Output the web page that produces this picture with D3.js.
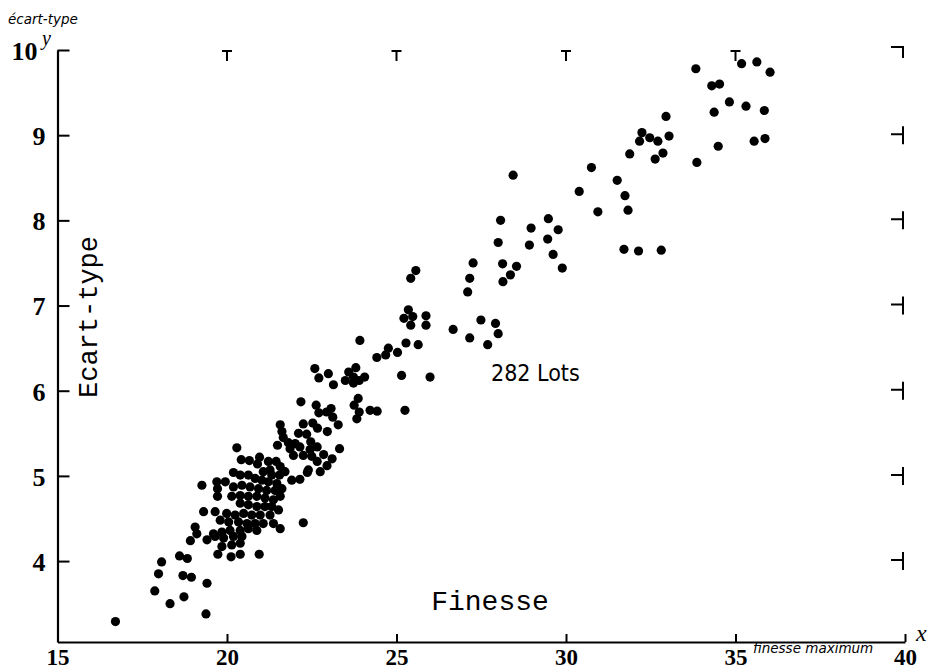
<!DOCTYPE html>
<html>
<head>
<meta charset="utf-8">
<script src="https://cdn.jsdelivr.net/npm/d3@7"></script>
<style>
  body { margin: 0; background: #fff; }
  svg { display: block; }
</style>
</head>
<body>
<div id="vis"></div>
<script>
// finesse (x) / ecart-type (y) of the lots
const finesse = [
  16.71, 17.87, 17.98, 18.07, 18.32, 18.60, 18.83, 18.70, 18.95, 18.73, 19.41, 19.38,
  22.18, 22.63, 21.57, 22.25, 22.53, 22.67, 21.62, 22.11, 22.35, 21.66, 21.81, 22.01,
  22.47, 21.49, 21.86, 22.15, 22.45, 22.66, 20.29, 21.96, 22.25, 22.50, 22.66, 20.42,
  20.66, 20.96, 20.90, 21.22, 21.45, 21.57, 21.27, 21.07, 21.32, 21.55, 21.71, 22.40,
  20.19, 20.39, 20.63, 20.83, 21.03, 21.22, 21.47, 21.62, 21.91, 22.15, 22.37, 19.70,
  19.95, 20.19, 20.44, 20.68, 20.93, 21.17, 21.42, 19.26, 19.72, 19.72, 20.14, 20.39,
  20.63, 20.88, 21.12, 21.37, 21.57, 20.39, 20.63, 20.88, 21.12, 21.32, 21.52, 19.31,
  19.65, 19.99, 20.24, 20.49, 20.73, 20.98, 21.27, 19.80, 20.05, 20.34, 20.59, 20.83,
  21.07, 21.37, 21.57, 22.25, 19.06, 19.11, 19.60, 19.85, 20.09, 20.39, 20.63, 20.88,
  18.92, 19.41, 19.65, 19.90, 20.19, 20.44, 19.85, 20.14, 20.39, 19.73, 20.12, 20.39,
  20.95,
  23.92, 24.42, 24.68, 24.76, 22.59, 22.71, 22.99, 23.14, 23.59, 23.80, 23.49, 23.73,
  23.73, 23.90, 24.06, 22.71, 22.94, 23.07, 23.12, 23.28, 22.96, 23.87, 23.75, 23.90,
  23.83, 24.22, 24.43, 23.32, 22.85, 22.95, 22.75, 23.10,
  28.44, 30.75, 31.51, 30.39, 31.74, 31.83, 30.94, 28.07, 29.48, 29.77, 28.97, 28.00,
  28.92, 29.46, 29.62, 29.89, 31.71, 27.26, 27.16, 27.10, 28.13, 28.54, 28.36, 28.14,
  25.57, 25.42, 25.35, 25.22, 25.48, 25.42, 25.87, 25.87, 26.67, 27.16, 27.49, 27.92,
  28.00, 27.69, 25.03, 25.28, 25.64, 25.15, 25.99, 25.25,
  33.83, 35.18, 35.63, 36.02, 34.30, 34.53, 34.82, 35.31, 35.85, 34.37, 32.95, 32.24,
  32.17, 32.47, 32.71, 33.04, 31.88, 32.63, 32.86, 34.49, 35.55, 35.87, 33.86, 32.14,
  32.81
]
const ecartType = [
  3.29, 3.65, 3.85, 3.99, 3.50, 4.06, 4.03, 3.83, 3.81, 3.58, 3.74, 3.38,
  5.87, 5.83, 5.60, 5.61, 5.62, 5.56, 5.52, 5.50, 5.49, 5.45, 5.39, 5.38,
  5.40, 5.36, 5.32, 5.34, 5.31, 5.34, 5.33, 5.24, 5.24, 5.23, 5.17, 5.19,
  5.18, 5.22, 5.14, 5.17, 5.17, 5.11, 5.07, 5.05, 5.01, 5.01, 5.05, 5.07,
  5.04, 5.01, 5.01, 4.97, 4.95, 4.93, 4.91, 4.85, 4.95, 4.96, 5.04, 4.93,
  4.93, 4.87, 4.89, 4.87, 4.85, 4.83, 4.83, 4.89, 4.85, 4.76, 4.76, 4.77,
  4.76, 4.76, 4.74, 4.72, 4.76, 4.68, 4.66, 4.64, 4.64, 4.64, 4.60, 4.58,
  4.58, 4.56, 4.54, 4.56, 4.54, 4.54, 4.54, 4.48, 4.46, 4.46, 4.44, 4.44,
  4.44, 4.44, 4.38, 4.45, 4.40, 4.32, 4.32, 4.34, 4.36, 4.36, 4.38, 4.36,
  4.24, 4.25, 4.29, 4.27, 4.29, 4.29, 4.17, 4.19, 4.21, 4.08, 4.05, 4.08,
  4.08,
  6.59, 6.39, 6.42, 6.50, 6.26, 6.15, 6.20, 6.07, 6.22, 6.27, 6.12, 6.16,
  6.09, 6.12, 6.16, 5.74, 5.75, 5.79, 5.69, 5.60, 5.52, 5.91, 5.83, 5.75,
  5.67, 5.77, 5.76, 5.32, 5.25, 5.12, 5.05, 5.20,
  8.53, 8.62, 8.47, 8.34, 8.29, 8.12, 8.10, 8.00, 8.02, 7.89, 7.91, 7.74,
  7.71, 7.78, 7.60, 7.44, 7.66, 7.50, 7.32, 7.16, 7.49, 7.46, 7.36, 7.28,
  7.41, 7.32, 6.95, 6.85, 6.87, 6.77, 6.88, 6.77, 6.72, 6.62, 6.83, 6.79,
  6.67, 6.54, 6.45, 6.56, 6.54, 6.18, 6.16, 5.77,
  9.78, 9.84, 9.86, 9.74, 9.58, 9.60, 9.39, 9.34, 9.29, 9.27, 9.22, 9.03,
  8.93, 8.97, 8.93, 8.99, 8.78, 8.72, 8.79, 8.87, 8.93, 8.96, 8.68, 7.64,
  7.65
]

const xTicks = [15, 20, 25, 30, 35, 40]
const yTicks = [4, 5, 6, 7, 8, 9, 10]
const topTicks = [20, 25, 30, 35]
const rightTicks = [4, 5, 6, 7, 8, 9]

const lots = finesse.map((f, i) => ({ x: f, y: ecartType[i] }))

const W = 939, H = 671

const svg = d3.select('#vis').append('svg')
  .attr('width', W)
  .attr('height', H)

const x = d3.scaleLinear().domain([15, 40]).range([57.5, 905])
const y = d3.scaleLinear().domain([3.05, 10]).range([642, 50])

// left axis, ticks pointing inside
const yAxis = svg.append('g')
  .attr('transform', `translate(${x(15)},0)`)
  .call(d3.axisLeft(y).tickValues(yTicks).tickSize(-12).tickSizeOuter(0).tickPadding(12).tickFormat(d3.format('d')))
yAxis.select('.domain').attr('stroke-width', 2.2)
yAxis.selectAll('.tick line').attr('stroke-width', 2)
yAxis.selectAll('.tick text')
  .attr('font-family', '"Liberation Serif", "DejaVu Serif", serif')
  .attr('font-weight', 'bold')
  .attr('font-size', 26)
  .attr('dy', '0.36em')
  .attr('fill', '#000')
yAxis.selectAll('.tick').filter(d => d === 10).select('text').attr('x', -20)

// bottom axis
const xAxis = svg.append('g')
  .attr('transform', `translate(0,${y(3.05)})`)
  .call(d3.axisBottom(x).tickValues(xTicks).tickSize(-8).tickSizeOuter(0).tickPadding(7))
xAxis.select('.domain').attr('stroke-width', 2.2)
xAxis.selectAll('.tick line').attr('stroke-width', 2)
xAxis.selectAll('.tick text')
  .attr('font-family', '"Liberation Serif", "DejaVu Serif", serif')
  .attr('font-weight', 'bold')
  .attr('font-size', 23)
  .attr('dy', '0.7em')
  .attr('fill', '#000')

// little T marks along the top at y = 10
const topMarks = svg.append('g').attr('stroke', '#000').attr('stroke-width', 2)
topMarks.selectAll('path')
  .data(topTicks)
  .enter()
  .append('path')
  .attr('fill', 'none')
  .attr('d', d => `M${x(d) - 5},${y(10) + 1}H${x(d) + 5}M${x(d)},${y(10) + 1}V${y(10) + 11}`)

// right hand marks at x = 40
const rightMarks = svg.append('g').attr('stroke', '#000').attr('stroke-width', 2).attr('fill', 'none')
rightMarks.selectAll('path')
  .data(rightTicks)
  .enter()
  .append('path')
  .attr('d', d => `M${x(40) - 14},${y(d) - 1}H${x(40) - 2}M${x(40) - 2},${y(d) - 9}V${y(d) + 9}`)
rightMarks.append('path')
  .attr('d', `M${x(40) - 14},${y(10) - 3}H${x(40) - 2}V${y(10) + 8}`)

// the lots
svg.append('g')
  .selectAll('circle')
  .data(lots)
  .enter()
  .append('circle')
  .attr('cx', d => x(d.x))
  .attr('cy', d => y(d.y))
  .attr('r', 4.6)
  .attr('fill', '#000')

// texts
svg.append('text')
  .attr('x', 8).attr('y', 24)
  .attr('font-family', '"DejaVu Sans", sans-serif')
  .attr('font-style', 'italic')
  .attr('font-size', 13.5)
  .text('écart-type')

svg.append('text')
  .attr('x', 42).attr('y', 45)
  .attr('font-family', '"Liberation Serif", serif')
  .attr('font-style', 'italic')
  .attr('font-size', 20)
  .text('y')

svg.append('text')
  .attr('x', 916).attr('y', 641)
  .attr('font-family', '"Liberation Serif", serif')
  .attr('font-style', 'italic')
  .attr('font-size', 24)
  .text('x')

svg.append('text')
  .attr('x', 753).attr('y', 653)
  .attr('font-family', '"DejaVu Sans", sans-serif')
  .attr('font-style', 'italic')
  .attr('font-size', 13.5)
  .text('finesse maximum')

svg.append('text')
  .attr('transform', 'translate(97,317) rotate(-90)')
  .attr('text-anchor', 'middle')
  .attr('font-family', '"Liberation Mono", "DejaVu Sans Mono", monospace')
  .attr('font-size', 27)
  .text('Ecart-type')

svg.append('text')
  .attr('x', 490).attr('y', 610)
  .attr('text-anchor', 'middle')
  .attr('font-family', '"Liberation Mono", "DejaVu Sans Mono", monospace')
  .attr('font-size', 28)
  .text('Finesse')

svg.append('text')
  .attr('x', 491).attr('y', 381)
  .attr('font-family', '"Liberation Sans Narrow", "DejaVu Sans Condensed", sans-serif')
  .attr('font-size', 23)
  .text('282 Lots')
</script>
</body>
</html>
